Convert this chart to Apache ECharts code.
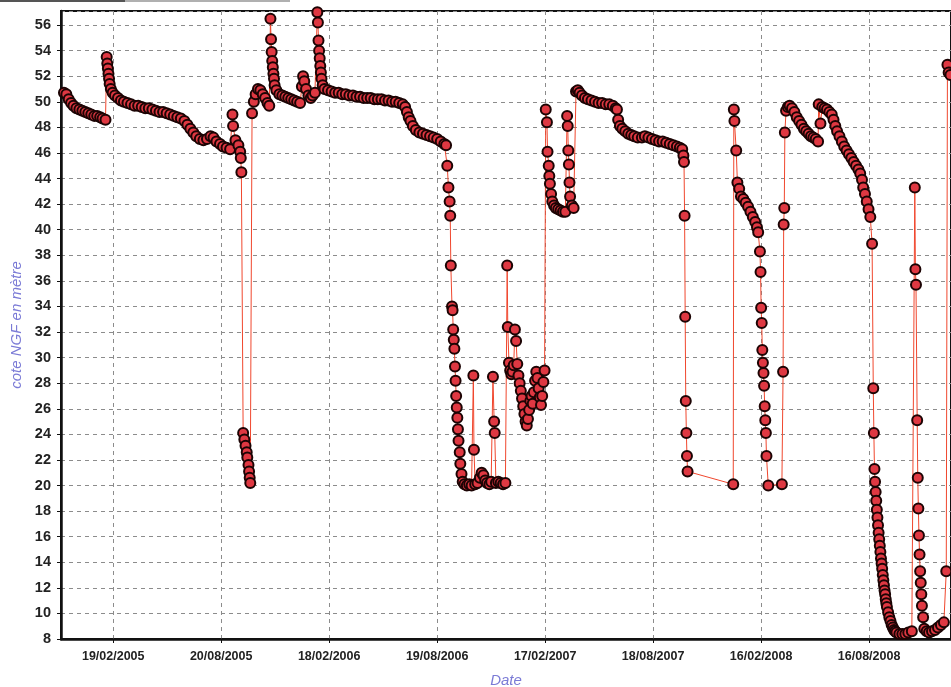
<!DOCTYPE html>
<html>
<head>
<meta charset="utf-8">
<script src="https://cdn.jsdelivr.net/npm/echarts@6/dist/echarts.min.js"></script>
<style>
  html, body { margin: 0; padding: 0; background: #fff; }
  #main { width: 951px; height: 687px; }
</style>
</head>
<body>
<div id="main"></div>
<script>
  // jour 0 = 19/02/2005
  const origine = Date.UTC(2005, 1, 19)
  // jalons de l'axe des dates (en jours depuis l'origine)
  const jalons = [0, 182, 364, 546, 728, 910, 1092, 1274]

  // [jour, cote NGF en m]
  const releves2005 = [
    [-83, 50.7], [-79, 50.6], [-75, 50.2], [-71, 49.9], [-67, 49.7], [-62, 49.5], [-57, 49.4], [-52, 49.3],
    [-47, 49.2], [-42, 49.1], [-37, 49.0], [-32, 48.9], [-27, 48.9], [-22, 48.8], [-18, 48.7], [-13, 48.6],
    [-11, 53.5], [-10, 53.0], [-9, 52.6], [-8, 52.2], [-7, 51.8], [-6, 51.4], [-4, 51.0], [-1, 50.7],
    [3, 50.5], [8, 50.3], [13, 50.1], [18, 50.0], [24, 49.9], [30, 49.8], [36, 49.7], [42, 49.7],
    [48, 49.6], [54, 49.5], [60, 49.5], [66, 49.4], [72, 49.3], [78, 49.2], [84, 49.2], [90, 49.1],
    [96, 49.0], [102, 48.9], [108, 48.8], [114, 48.7], [120, 48.5], [125, 48.2], [130, 47.9], [135, 47.6],
    [140, 47.3], [146, 47.1], [152, 47.0], [158, 47.1], [164, 47.3], [169, 47.2], [174, 46.9], [180, 46.7],
    [185, 46.5], [191, 46.4], [197, 46.3],
    [201, 49.0], [202, 48.1], [206, 47.0], [211, 46.6], [214, 46.1], [215, 45.6], [216, 44.5],
    [219, 24.1], [221, 23.6], [223, 23.1], [225, 22.6], [226, 22.2], [228, 21.6], [229, 21.1], [230, 20.6], [231, 20.2],
    [234, 49.1], [237, 50.0], [240, 50.6], [244, 51.0], [248, 50.9], [252, 50.6], [256, 50.3], [260, 49.9], [263, 49.7],
    [265, 56.5], [266, 54.9], [267, 53.9], [268, 53.2], [269, 52.7], [270, 52.2], [271, 51.8], [272, 51.3],
    [275, 50.9], [280, 50.6], [285, 50.5], [290, 50.4], [295, 50.3], [300, 50.2], [305, 50.1], [310, 50.0], [315, 49.9]
  ]

  const releves2006 = [
    [318, 51.2], [320, 52.0], [322, 51.6], [325, 51.0], [329, 50.5], [333, 50.3], [336, 50.5], [340, 50.7],
    [344, 57.0], [345, 56.2], [346, 54.8], [347, 54.0], [348, 53.4], [349, 52.8], [350, 52.3], [351, 51.8],
    [353, 51.3], [356, 51.0], [362, 50.9], [368, 50.8], [374, 50.7], [380, 50.7], [386, 50.6], [392, 50.6],
    [398, 50.5], [404, 50.5], [410, 50.4], [416, 50.4], [422, 50.3], [428, 50.3], [434, 50.3], [440, 50.2],
    [446, 50.2], [452, 50.2], [458, 50.1], [464, 50.1], [470, 50.0], [476, 50.0], [482, 49.9], [488, 49.8],
    [492, 49.6], [495, 49.2], [498, 48.8], [501, 48.5], [505, 48.1], [510, 47.8], [516, 47.6], [522, 47.5],
    [528, 47.4], [534, 47.3], [540, 47.2], [546, 47.1], [552, 46.9], [558, 46.7], [561, 46.6],
    [563, 45.0], [565, 43.3], [567, 42.2], [568, 41.1], [569, 37.2], [571, 34.0], [572, 33.7], [573, 32.2],
    [574, 31.4], [575, 30.7], [576, 29.3], [577, 28.2], [578, 27.0], [579, 26.1], [580, 25.3], [581, 24.4],
    [582, 23.5], [584, 22.6], [585, 21.7], [587, 20.9], [589, 20.3], [592, 20.1], [596, 20.0], [600, 20.1],
    [604, 20.0], [607, 28.6], [608, 22.8], [610, 20.1], [614, 20.2], [618, 20.6], [621, 21.0], [624, 20.8],
    [627, 20.4], [630, 20.2], [634, 20.1], [637, 20.3], [640, 28.5], [642, 25.0], [643, 24.1], [645, 20.2],
    [649, 20.3], [653, 20.2], [657, 20.1], [661, 20.2]
  ]

  const releves2007 = [
    [664, 37.2], [665, 32.4], [667, 29.6], [669, 29.0], [671, 28.7], [673, 28.9], [675, 29.4], [677, 32.2],
    [679, 31.3], [681, 29.5], [683, 28.6], [685, 28.0], [687, 27.4], [689, 26.8], [691, 26.2], [693, 25.6],
    [695, 25.0], [697, 24.7], [699, 25.2], [701, 25.9], [703, 26.6], [705, 27.0], [707, 26.4], [709, 27.3],
    [711, 28.2], [713, 28.9], [715, 28.4], [717, 27.6], [719, 26.9], [721, 26.3], [723, 27.0], [725, 28.1], [727, 29.0],
    [729, 49.4], [731, 48.4], [732, 46.1], [734, 45.0], [735, 44.2], [736, 43.6], [738, 42.8], [740, 42.2],
    [743, 41.9], [746, 41.7], [750, 41.6], [754, 41.5], [758, 41.4], [762, 41.4],
    [765, 48.9], [766, 48.1], [767, 46.2], [768, 45.1], [769, 43.7], [770, 42.6], [773, 41.9], [776, 41.7],
    [780, 50.8], [783, 50.9], [786, 50.7], [790, 50.5], [795, 50.3], [800, 50.2], [806, 50.1], [812, 50.0],
    [818, 49.9], [824, 49.9], [830, 49.8], [836, 49.8], [842, 49.7], [847, 49.5], [849, 49.4], [851, 48.6],
    [854, 48.1], [858, 47.9], [863, 47.7], [868, 47.5], [873, 47.4], [878, 47.3], [884, 47.2], [891, 47.2],
    [896, 47.3], [902, 47.2], [908, 47.1], [914, 47.0], [920, 46.9], [926, 46.9], [932, 46.8], [938, 46.7],
    [944, 46.6], [950, 46.5], [955, 46.4], [959, 46.3], [961, 45.8], [962, 45.3],
    [963, 41.1], [964, 33.2], [965, 26.6], [966, 24.1], [967, 22.3], [968, 21.1]
  ]

  const releves2008 = [
    [1045, 20.1], [1046, 49.4], [1047, 48.5], [1050, 46.2], [1052, 43.7], [1055, 43.2], [1058, 42.6], [1062, 42.4],
    [1066, 42.1], [1070, 41.8], [1074, 41.4], [1078, 41.0], [1082, 40.6], [1085, 40.2], [1087, 39.8], [1090, 38.3],
    [1091, 36.7], [1092, 33.9], [1093, 32.7], [1094, 30.6], [1095, 29.6], [1096, 28.8], [1097, 27.8], [1098, 26.2],
    [1099, 25.1], [1100, 24.1], [1101, 22.3], [1104, 20.0], [1127, 20.1],
    [1129, 28.9], [1130, 40.4], [1131, 41.7], [1132, 47.6], [1134, 49.3], [1137, 49.6], [1140, 49.7], [1144, 49.5],
    [1148, 49.2], [1152, 48.8], [1156, 48.5], [1160, 48.2], [1164, 47.9], [1168, 47.7], [1172, 47.5], [1176, 47.3],
    [1180, 47.2], [1184, 47.1], [1188, 46.9],
    [1189, 49.8], [1192, 48.3], [1195, 49.6], [1199, 49.5], [1203, 49.4], [1207, 49.2], [1211, 49.0], [1214, 48.6],
    [1217, 48.1], [1220, 47.7], [1224, 47.3], [1228, 46.9], [1232, 46.5], [1236, 46.2], [1240, 45.9], [1244, 45.6],
    [1248, 45.3], [1252, 45.0], [1256, 44.7], [1259, 44.4], [1262, 43.9], [1264, 43.3], [1267, 42.8], [1270, 42.2],
    [1273, 41.6], [1276, 41.0], [1279, 38.9], [1281, 27.6], [1282, 24.1], [1283, 21.3], [1284, 20.3], [1285, 19.5],
    [1286, 18.8], [1287, 18.1], [1288, 17.5], [1289, 16.9], [1290, 16.3], [1291, 15.8], [1292, 15.3], [1293, 14.8],
    [1294, 14.3], [1295, 13.9], [1296, 13.5], [1297, 13.0], [1298, 12.6], [1299, 12.2], [1300, 11.8], [1301, 11.5],
    [1302, 11.1], [1303, 10.8], [1304, 10.5], [1306, 10.1], [1308, 9.7], [1310, 9.4], [1312, 9.1], [1314, 8.9],
    [1316, 8.7], [1318, 8.6], [1320, 8.5], [1325, 8.4], [1330, 8.4], [1335, 8.4], [1340, 8.5], [1346, 8.6],
    [1351, 43.3], [1352, 36.9], [1353, 35.7], [1355, 25.1], [1356, 20.6], [1357, 18.2], [1358, 16.1], [1359, 14.6],
    [1360, 13.3], [1361, 12.4], [1362, 11.5], [1363, 10.6], [1365, 9.7], [1367, 8.8], [1371, 8.6], [1375, 8.5],
    [1380, 8.6], [1385, 8.7], [1390, 8.9], [1395, 9.1], [1400, 9.3], [1404, 13.3], [1406, 52.9], [1408, 52.3],
    [1411, 52.1], [1415, 51.8]
  ]

  const releves = releves2005.concat(releves2006, releves2007, releves2008)

  function formatJour(v) {
    const d = new Date(origine + v * 86400000)
    const p = n => (n < 10 ? '0' : '') + n
    return p(d.getUTCDate()) + '/' + p(d.getUTCMonth() + 1) + '/' + d.getUTCFullYear()
  }

  const gridLine = { show: true, lineStyle: { color: '#8c8c8c', width: 1, type: [4, 4] } }

  const option = {
    animation: false,
    backgroundColor: '#fff',
    grid: {
      left: 61, right: 0, top: 11, bottom: 48,
      show: true, borderColor: '#111', borderWidth: 2,
      outerBoundsMode: 'none'
    },
    graphic: [
      { type: 'rect', left: 0, top: 0, shape: { width: 125, height: 2 }, style: { fill: '#555' } },
      { type: 'rect', left: 125, top: 0, shape: { width: 165, height: 2 }, style: { fill: '#b0b0b0' } }
    ],
    xAxis: {
      type: 'value',
      min: -88,
      max: 1412,
      name: 'Date',
      nameLocation: 'middle',
      nameGap: 34,
      nameTextStyle: { color: '#7b7bd6', fontStyle: 'italic', fontSize: 15, fontFamily: 'Liberation Sans' },
      axisLine: { onZero: false, lineStyle: { color: '#111', width: 2.5 } },
      axisTick: { show: true, length: 4, customValues: jalons, lineStyle: { color: '#111' } },
      axisLabel: {
        customValues: jalons,
        formatter: formatJour,
        margin: 11,
        color: '#222',
        fontSize: 12.5,
        fontWeight: 'bold',
        fontFamily: 'Liberation Sans'
      },
      splitLine: gridLine
    },
    yAxis: {
      type: 'value',
      min: 8,
      max: 57.1,
      interval: 2,
      name: 'cote NGF en mètre',
      nameLocation: 'middle',
      nameGap: 32,
      nameTextStyle: { color: '#7b7bd6', fontStyle: 'italic', fontSize: 15, fontFamily: 'Liberation Sans' },
      axisLine: { show: true, onZero: false, lineStyle: { color: '#111', width: 2.5 } },
      axisTick: { show: true, length: 4, lineStyle: { color: '#111' } },
      axisLabel: {
        showMaxLabel: false,
        margin: 10,
        color: '#222',
        fontSize: 14.5,
        fontWeight: 'bold',
        fontFamily: 'Liberation Sans'
      },
      splitLine: gridLine
    },
    series: [{
      type: 'line',
      data: releves,
      symbol: 'circle',
      symbolSize: 10,
      showAllSymbol: true,
      lineStyle: { color: '#f0472e', width: 1 },
      itemStyle: { color: '#df3842', borderColor: '#1c0404', borderWidth: 2 }
    }]
  }

  const myChart = echarts.init(document.getElementById('main'))
  myChart.setOption(option)
</script>
</body>
</html>
